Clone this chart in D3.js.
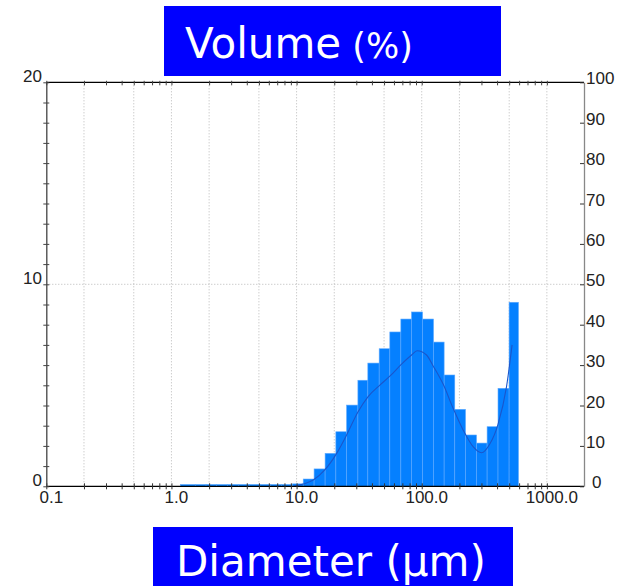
<!DOCTYPE html>
<html>
<head>
<meta charset="utf-8">
<script src="https://cdn.jsdelivr.net/npm/d3@7"></script>
<style>
  html, body { margin: 0; padding: 0; background: #fff; }
  svg { display: block; }
</style>
</head>
<body>
<svg id="chart" width="618" height="586"></svg>
<script>
// ---- data ----
const binEdges = [1.18, 1.55, 1.89, 2.30, 2.81, 3.43, 4.18, 5.10, 6.22, 7.59, 9.26,
  11.3, 13.8, 16.9, 20.6, 25.1, 30.9, 37.1, 45.7, 55.6, 68.1, 82.9, 101.5,
  124.2, 151, 183.7, 223.8, 274, 333, 407, 499, 593];
const binValues = [0.09, 0.09, 0.09, 0.09, 0.09, 0.09, 0.09, 0.09, 0.09, 0.09, 0.12,
  0.36, 0.86, 1.63, 2.70, 4.02, 5.25, 6.10, 6.81, 7.64, 8.28, 8.63, 8.28,
  7.14, 5.51, 3.81, 2.54, 2.14, 2.95, 4.85, 9.11];
const curveSizes = [9.5, 11.3, 13.6, 16.8, 20.9, 25.1, 31.0, 37.3, 46.3, 55.6, 69.0,
  82.9, 91.9, 109.2, 123.3, 148.2, 178.2, 214.1, 257.4, 300.3, 349.9, 407.4, 475.6, 527.2];
const curveValues = [0.0, 0.11, 0.31, 0.81, 1.63, 2.54, 3.69, 4.44, 5.01, 5.45, 6.05,
  6.50, 6.71, 6.50, 5.96, 5.06, 3.86, 2.79, 1.96, 1.66, 2.09, 3.08, 4.92, 7.0];
const xLabelTicks = [0.1, 1, 10, 100, 1000];
const xGridTicks = [0.2, 0.5, 1, 2, 5, 10, 20, 50, 100, 200, 500, 1000];
const leftLabelTicks = [0, 10, 20];
const rightLabelTicks = [0, 10, 20, 30, 40, 50, 60, 70, 80, 90, 100];
const titleMain = "Volume";
const titleUnit = " (%)";
const xTitle = "Diameter (µm)";

// ---- layout ----
const L = 46.3, R = 584, T = 82.3, B = 486.3;
const svg = d3.select("#chart");

const x = d3.scaleLog().domain([0.1, 1980]).range([L, R]);
const yL = d3.scaleLinear().domain([0, 20]).range([B, T]);
const yR = d3.scaleLinear().domain([0, 100]).range([B, T]);

// minor tick values
const minorX = [];
[0.1, 1, 10, 100].forEach(dec => { for (let k = 1; k <= 9; k++) minorX.push(+(dec * k).toPrecision(3)); });
minorX.push(1000);

// ---- grid ----
const grid = svg.append("g");
grid.selectAll("line.v").data(xGridTicks).join("line")
  .attr("x1", d => x(d)).attr("x2", d => x(d))
  .attr("y1", T).attr("y2", B)
  .attr("stroke", "#b8b8b8").attr("stroke-width", 1)
  .attr("stroke-dasharray", "1,2");
grid.append("line")
  .attr("x1", L).attr("x2", R).attr("y1", yL(10)).attr("y2", yL(10))
  .attr("stroke", "#b8b8b8").attr("stroke-width", 1)
  .attr("stroke-dasharray", "1,2");

// ---- bars ----
const bars = binValues.map((v, i) => ({ x0: binEdges[i], x1: binEdges[i + 1], v }));
svg.append("g").selectAll("rect").data(bars).join("rect")
  .attr("x", d => x(d.x0))
  .attr("width", d => x(d.x1) - x(d.x0))
  .attr("y", d => yL(d.v))
  .attr("height", d => B - yL(d.v))
  .attr("fill", "#0580ff")
  .attr("stroke", "#5ea9ff")
  .attr("stroke-width", 0.6);

// ---- curve ----
const pts = curveSizes.map((s, i) => [s, curveValues[i]]);
svg.append("path")
  .datum(pts)
  .attr("fill", "none")
  .attr("stroke", "#1a56cc")
  .attr("stroke-width", 1.1)
  .attr("d", d3.line().x(d => x(d[0])).y(d => yL(d[1])).curve(d3.curveMonotoneX));

// ---- axes ----
const fontAxis = "'Liberation Sans', Arial, sans-serif";

// bottom axis
const bAx = svg.append("g").attr("transform", `translate(0,${B})`)
  .call(d3.axisBottom(x).tickValues(minorX).tickSize(3).tickSizeOuter(0).tickFormat(""));
bAx.select(".domain").attr("stroke", "#000").attr("stroke-width", 1.3).attr("d", `M${L},0H${R}`);
bAx.selectAll(".tick line").attr("y1", -3).attr("y2", 3).attr("stroke", "#333");
svg.append("g").selectAll("text").data(xLabelTicks).join("text")
  .attr("x", d => x(d) + 5).attr("y", 503)
  .attr("text-anchor", "middle")
  .attr("font-family", fontAxis).attr("font-size", 17).attr("fill", "#222")
  .text(d => d3.format(".1f")(d));

// top axis
const tAx = svg.append("g").attr("transform", `translate(0,${T})`)
  .call(d3.axisTop(x).tickValues(minorX).tickSize(3).tickSizeOuter(0).tickFormat(""));
tAx.select(".domain").attr("stroke", "#000").attr("stroke-width", 1.3).attr("d", `M${L},0H${R}`);
tAx.selectAll(".tick line").attr("y1", -1.5).attr("y2", 3).attr("stroke", "#444");

// left axis
const lAx = svg.append("g").attr("transform", `translate(${L},0)`)
  .call(d3.axisLeft(yL).ticks(20).tickSize(3).tickSizeOuter(0).tickFormat(""));
lAx.select(".domain").attr("stroke", "#444").attr("stroke-width", 1.3);
lAx.selectAll(".tick line").attr("x1", -3).attr("x2", 3).attr("stroke", "#444");
svg.append("g").selectAll("text").data(leftLabelTicks).join("text")
  .attr("x", 42).attr("y", d => yL(d))
  .attr("text-anchor", "end")
  .attr("font-family", fontAxis).attr("font-size", 17).attr("fill", "#222")
  .text(d => d);

// right axis
const rAx = svg.append("g").attr("transform", `translate(${R},0)`)
  .call(d3.axisLeft(yR).tickValues(rightLabelTicks).tickSize(4).tickSizeOuter(0).tickFormat(""));
rAx.select(".domain").attr("stroke", "#888").attr("stroke-width", 1.3);
rAx.selectAll(".tick line").attr("stroke", "#333");
svg.append("g").selectAll("text").data(rightLabelTicks).join("text")
  .attr("x", d => d === 0 ? 592 : 586).attr("y", d => yR(d) + 2)
  .attr("text-anchor", "start")
  .attr("font-family", fontAxis).attr("font-size", 17).attr("fill", "#222")
  .text(d => d);

// ---- titles ----
const fontTitle = "'DejaVu Sans', Verdana, sans-serif";
svg.append("rect").attr("x", 164).attr("y", 6).attr("width", 337).attr("height", 70).attr("fill", "#0000ff");
const tt = svg.append("text").attr("x", 185).attr("y", 58)
  .attr("font-family", fontTitle).attr("fill", "#fff");
tt.append("tspan").attr("font-size", 42).text(titleMain);
tt.append("tspan").attr("font-size", 35).text(titleUnit);

svg.append("rect").attr("x", 153).attr("y", 527).attr("width", 360).attr("height", 70).attr("fill", "#0000ff");
svg.append("text").attr("x", 176).attr("y", 576)
  .attr("font-family", fontTitle).attr("font-size", 42).attr("fill", "#fff")
  .text(xTitle);
</script>
</body>
</html>
